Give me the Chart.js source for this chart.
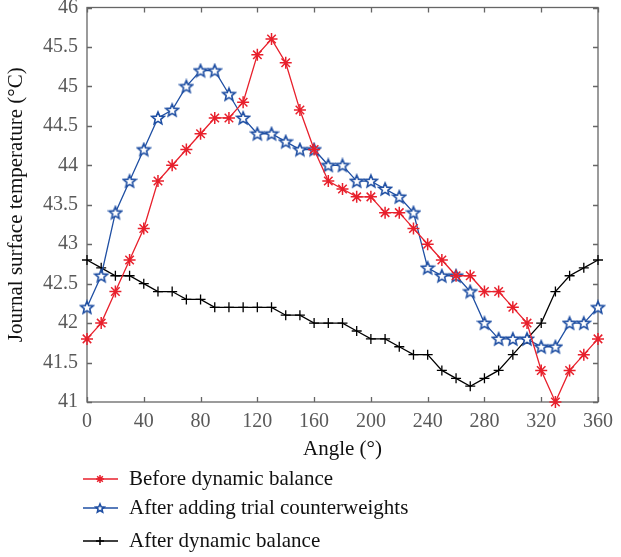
<!DOCTYPE html>
<html>
<head>
<meta charset="utf-8">
<script src="https://cdn.jsdelivr.net/npm/chart.js@4/dist/chart.umd.min.js"></script>
<style>
html, body { margin: 0; padding: 0; background: #fff; }
</style>
</head>
<body>
<canvas id="myChart" width="621" height="557"></canvas>
<script>
// angle in degrees, one reading every 10°
const angles = [0, 10, 20, 30, 40, 50, 60, 70, 80, 90, 100, 110, 120, 130, 140, 150, 160, 170, 180,
    190, 200, 210, 220, 230, 240, 250, 260, 270, 280, 290, 300, 310, 320, 330, 340, 350, 360];

const beforeBalance = [41.8, 42.0, 42.4, 42.8, 43.2, 43.8, 44.0, 44.2, 44.4, 44.6, 44.6, 44.8, 45.4, 45.6,
    45.3, 44.7, 44.2, 43.8, 43.7, 43.6, 43.6, 43.4, 43.4, 43.2, 43.0, 42.8, 42.6, 42.6, 42.4, 42.4,
    42.2, 42.0, 41.4, 41.0, 41.4, 41.6, 41.8];

const trialWeights = [42.2, 42.6, 43.4, 43.8, 44.2, 44.6, 44.7, 45.0, 45.2, 45.2, 44.9, 44.6, 44.4, 44.4,
    44.3, 44.2, 44.2, 44.0, 44.0, 43.8, 43.8, 43.7, 43.6, 43.4, 42.7, 42.6, 42.6, 42.4, 42.0, 41.8,
    41.8, 41.8, 41.7, 41.7, 42.0, 42.0, 42.2];

const afterBalance = [42.8, 42.7, 42.6, 42.6, 42.5, 42.4, 42.4, 42.3, 42.3, 42.2, 42.2, 42.2, 42.2, 42.2,
    42.1, 42.1, 42.0, 42.0, 42.0, 41.9, 41.8, 41.8, 41.7, 41.6, 41.6, 41.4, 41.3, 41.2, 41.3, 41.4,
    41.6, 41.8, 42.0, 42.4, 42.6, 42.7, 42.8];

const seriesNames = ['Before dynamic balance', 'After adding trial counterweights', 'After dynamic balance'];
const xTicks = [0, 40, 80, 120, 160, 200, 240, 280, 320, 360];
const yTicks = [41, 41.5, 42, 42.5, 43, 43.5, 44, 44.5, 45, 45.5, 46];

const FONT = "'Liberation Serif', 'Times New Roman', serif";
const RED = '#e8202c';
const BLUE = '#1f4fa3';

// outlined five-point star, used as a point style
function makeStar(size, r) {
    const c = document.createElement('canvas');
    c.width = size; c.height = size;
    const g = c.getContext('2d');
    const cx = size / 2, cy = size / 2 + 0.5;
    g.beginPath();
    for (let i = 0; i < 10; i++) {
        const rad = i % 2 === 0 ? r : r * 0.45;
        const a = -Math.PI / 2 + i * Math.PI / 5;
        const px = cx + rad * Math.cos(a), py = cy + rad * Math.sin(a);
        if (i === 0) g.moveTo(px, py); else g.lineTo(px, py);
    }
    g.closePath();
    g.fillStyle = '#fff';
    g.fill();
    g.lineWidth = 1.6;
    g.strokeStyle = BLUE;
    g.stroke();
    return c;
}
const starBig = makeStar(16, 6.5);
const starSmall = makeStar(12, 4.5);

const framePlugin = {
    id: 'frame',
    beforeDatasetsDraw(chart) {
        const ctx = chart.ctx;
        const a = chart.chartArea;
        const x = chart.scales.x, y = chart.scales.y;
        ctx.save();
        ctx.strokeStyle = '#666';
        ctx.lineWidth = 1.3;
        ctx.strokeRect(a.left, a.top, a.right - a.left, a.bottom - a.top);
        ctx.beginPath();
        xTicks.forEach(v => {
            const px = Math.round(x.getPixelForValue(v)) + 0.5;
            ctx.moveTo(px, a.bottom); ctx.lineTo(px, a.bottom - 5);
            ctx.moveTo(px, a.top); ctx.lineTo(px, a.top + 5);
        });
        yTicks.forEach(v => {
            const py = Math.round(y.getPixelForValue(v)) + 0.5;
            ctx.moveTo(a.left, py); ctx.lineTo(a.left + 5, py);
            ctx.moveTo(a.right, py); ctx.lineTo(a.right - 5, py);
        });
        ctx.stroke();
        ctx.restore();
    }
};

const legendPlugin = {
    id: 'stackedLegend',
    afterDraw(chart) {
        const ctx = chart.ctx;
        const rows = [479, 508, 541];
        ctx.save();
        chart.data.datasets.forEach((ds, i) => {
            const yy = rows[i];
            ctx.strokeStyle = ds.borderColor;
            ctx.lineWidth = 1.5;
            ctx.beginPath();
            ctx.moveTo(83, yy); ctx.lineTo(118, yy);
            ctx.stroke();
            ctx.fillStyle = ds.pointBackgroundColor || ds.borderColor;
            ctx.strokeStyle = ds.pointBorderColor || ds.borderColor;
            const style = ds.pointStyle === starBig ? starSmall : ds.pointStyle;
            Chart.helpers.drawPoint(ctx, {pointStyle: style, radius: 4, rotation: 0, borderWidth: 1.4}, 100, yy);
            ctx.fillStyle = '#111';
            ctx.font = '21px ' + FONT;
            ctx.textBaseline = 'middle';
            ctx.textAlign = 'left';
            ctx.fillText(seriesNames[i], 129, yy);
        });
        ctx.restore();
    }
};

const toPoints = vals => vals.map((v, i) => ({x: angles[i], y: v}));

const data = {
    datasets: [{
        label: seriesNames[0],
        data: toPoints(beforeBalance),
        borderColor: RED,
        backgroundColor: RED,
        borderWidth: 1.3,
        pointStyle: 'star',
        pointRadius: 6,
        pointBorderWidth: 1.5,
        clip: false
    }, {
        label: seriesNames[1],
        data: toPoints(trialWeights),
        borderColor: BLUE,
        backgroundColor: BLUE,
        borderWidth: 1.3,
        pointStyle: starBig,
        pointRadius: 6,
        clip: false
    }, {
        label: seriesNames[2],
        data: toPoints(afterBalance),
        borderColor: '#000',
        backgroundColor: '#000',
        borderWidth: 1.3,
        pointStyle: 'cross',
        pointRadius: 5,
        pointBorderWidth: 1.3,
        clip: false
    }]
};

const config = {
    type: 'line',
    data: data,
    options: {
        responsive: false,
        animation: false,
        devicePixelRatio: 1,
        layout: {padding: {top: 6, right: 23, bottom: 95, left: 0}},
        plugins: {
            legend: {display: false},
            tooltip: {enabled: false}
        },
        scales: {
            x: {
                type: 'linear',
                min: 0,
                max: 360,
                afterBuildTicks: s => { s.ticks = xTicks.map(v => ({value: v})); },
                afterFit: s => { s.height = 60; s.paddingLeft = 0; s.paddingRight = 0; },
                grid: {display: false, drawTicks: false},
                border: {display: false},
                ticks: {autoSkip: false, maxRotation: 0, padding: 8, color: '#595959', font: {family: FONT, size: 20}},
                title: {display: true, text: 'Angle (°)', color: '#111', font: {family: FONT, size: 21}, padding: 0}
            },
            y: {
                type: 'linear',
                min: 41,
                max: 46,
                afterBuildTicks: s => { s.ticks = yTicks.map(v => ({value: v})); },
                afterFit: s => { s.width = 87; s.paddingTop = 0; s.paddingBottom = 0; },
                grid: {display: false, drawTicks: false},
                border: {display: false},
                ticks: {autoSkip: false, padding: 9, color: '#595959', font: {family: FONT, size: 20},
                    callback: v => String(v)},
                title: {display: true, text: 'Journal surface temperature (°C)', color: '#111',
                    font: {family: FONT, size: 21}, padding: {top: 4, bottom: 0}}
            }
        }
    },
    plugins: [framePlugin, legendPlugin]
};

const myChart = new Chart(document.getElementById('myChart'), config);
</script>
</body>
</html>
